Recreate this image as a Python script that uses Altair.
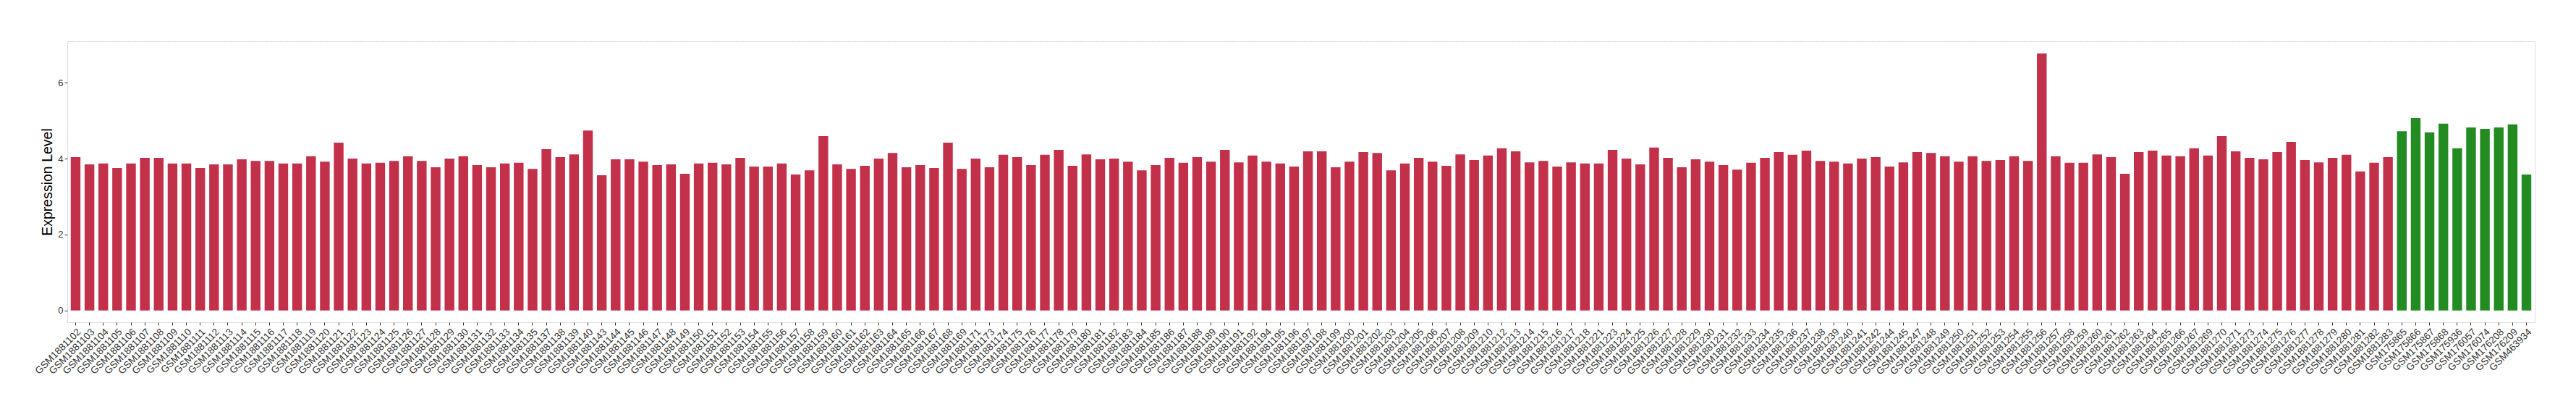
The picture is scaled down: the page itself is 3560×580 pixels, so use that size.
import altair as alt
import pandas as pd

red_ids = [
    102, 103, 104, 105, 106, 107, 108, 109, 110, 111, 112, 113, 114, 115, 116, 117, 118, 119, 120, 121,
    122, 123, 124, 125, 126, 127, 128, 129, 130, 131, 132, 133, 134, 135, 137, 138, 139, 140, 143, 144,
    145, 146, 147, 148, 149, 150, 151, 152, 153, 154, 155, 156, 157, 158, 159, 160, 161, 162, 163, 164,
    165, 166, 167, 168, 169, 171, 173, 174, 175, 176, 177, 178, 179, 180, 181, 182, 183, 184, 185, 186,
    187, 188, 189, 190, 191, 192, 194, 195, 196, 197, 198, 199, 200, 201, 202, 203, 204, 205, 206, 207,
    208, 209, 210, 212, 213, 214, 215, 216, 217, 218, 221, 223, 224, 225, 226, 227, 228, 229, 230, 231,
    232, 233, 234, 235, 236, 237, 238, 239, 240, 241, 242, 244, 245, 247, 248, 249, 250, 251, 252, 253,
    254, 255, 256, 257, 258, 259, 260, 261, 262, 263, 264, 265, 266, 267, 269, 270, 271, 273, 274, 275,
    276, 277, 278, 279, 280, 281, 282, 283,
]
red_samples = ["GSM1881" + str(i) for i in red_ids]

red_values = [
    4.04, 3.85, 3.87, 3.75, 3.87, 4.02, 4.02, 3.87, 3.87, 3.75, 3.85, 3.85, 3.98, 3.94, 3.94, 3.87, 3.87, 4.06, 3.92, 4.42,
    4.00, 3.87, 3.89, 3.94, 4.06, 3.94, 3.77, 4.00, 4.06, 3.83, 3.77, 3.87, 3.89, 3.73, 4.25, 4.04, 4.11, 4.74, 3.56, 3.98,
    3.98, 3.92, 3.83, 3.85, 3.60, 3.87, 3.89, 3.85, 4.02, 3.79, 3.79, 3.87, 3.58, 3.69, 4.59, 3.85, 3.73, 3.81, 4.00, 4.15,
    3.77, 3.83, 3.75, 4.42, 3.73, 4.00, 3.77, 4.10, 4.04, 3.83, 4.10, 4.23, 3.81, 4.11, 3.98, 4.00, 3.92, 3.69, 3.83, 4.02,
    3.89, 4.04, 3.92, 4.23, 3.90, 4.08, 3.92, 3.87, 3.79, 4.19, 4.19, 3.77, 3.92, 4.17, 4.15, 3.69, 3.87, 4.02, 3.92, 3.81,
    4.11, 3.96, 4.08, 4.27, 4.19, 3.90, 3.94, 3.79, 3.90, 3.87, 3.87, 4.23, 4.00, 3.85, 4.29, 4.02, 3.77, 3.98, 3.92, 3.83,
    3.71, 3.89, 4.02, 4.17, 4.10, 4.21, 3.94, 3.92, 3.87, 4.00, 4.04, 3.79, 3.90, 4.17, 4.15, 4.06, 3.92, 4.06, 3.94, 3.96,
    4.06, 3.94, 6.77, 4.06, 3.89, 3.89, 4.11, 4.04, 3.60, 4.17, 4.21, 4.08, 4.06, 4.27, 4.08, 4.59, 4.19, 4.02, 3.98, 4.17,
    4.44, 3.96, 3.90, 4.02, 4.10, 3.66, 3.89, 4.04,
]

green_samples = [
    "GSM175865", "GSM175866", "GSM175867", "GSM175868", "GSM175936",
    "GSM176057", "GSM176074", "GSM176208", "GSM176209", "GSM463934",
]
green_values = [4.72, 5.07, 4.69, 4.92, 4.27, 4.82, 4.78, 4.82, 4.90, 3.58]

group_names = ["GSM1881 series", "Other series"]
group_colors = ["#C3304A", "#228B22"]
y_ticks = [0, 2, 4, 6]
minor_ticks = [1, 3, 5, 7]

samples = red_samples + green_samples
df = pd.DataFrame({
    "sample": samples,
    "value": red_values + green_values,
    "group": [group_names[0]] * len(red_samples) + [group_names[1]] * len(green_samples),
})
minor_df = pd.DataFrame({"y": minor_ticks})

y_scale = alt.Scale(domain=[-0.31, 7.09], nice=False, zero=False)

x_enc = alt.X(
    "sample:N",
    sort=samples,
    title=None,
    scale=alt.Scale(paddingInner=0.3, paddingOuter=0.25),
    axis=alt.Axis(
        labelAngle=-45,
        labelAlign="right",
        labelBaseline="top",
        labelFontSize=13.5,
        labelColor="#333333",
        labelFont="Liberation Sans",
        labelPadding=2,
        labelOverlap=False,
        labelLimit=0,
        tickSize=4,
        tickColor="#333333",
        tickWidth=1,
        bandPosition=0.5,
        grid=True,
        gridColor="#FFFFFF",
        gridWidth=1.4,
        domain=False,
    ),
)

minor = alt.Chart(minor_df).mark_rule(color="#FFFFFF", strokeWidth=0.7).encode(
    y=alt.Y("y:Q", scale=y_scale)
)

bars = alt.Chart(df).mark_bar().encode(
    x=x_enc,
    y=alt.Y(
        "value:Q",
        scale=y_scale,
        title="Expression Level",
        axis=alt.Axis(
            values=y_ticks,
            labelFontSize=13,
            labelColor="#333333",
            labelFont="Liberation Sans",
            labelPadding=2,
            tickSize=4,
            tickColor="#333333",
            tickWidth=1,
            grid=True,
            gridColor="#FFFFFF",
            gridWidth=1.4,
            domain=False,
            titleFont="Liberation Sans",
            titleFontSize=19.5,
            titleFontWeight="normal",
            titleColor="#000000",
            titleX=-28,
            titleY=194,
            titleAngle=-90,
            titleAlign="center",
            titleBaseline="middle",
        ),
    ),
    color=alt.Color(
        "group:N",
        scale=alt.Scale(domain=group_names, range=group_colors),
        legend=None,
    ),
)

chart = alt.layer(minor, bars).properties(
    width=3410,
    height=388,
    autosize="none",
    padding={"left": 85, "top": 49, "right": 49, "bottom": 127},
).configure_view(
    fill="#EBEBEB",
    strokeWidth=0,
).configure(background="#FFFFFF")

chart.save("out.html", embed_options={"renderer": "svg", "actions": False})
